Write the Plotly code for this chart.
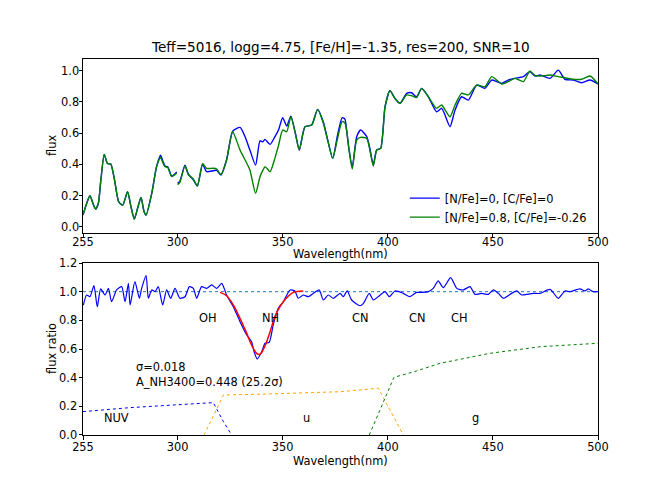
import plotly.graph_objects as go

# top panel: spectra (two pieces, broken at 300 nm)
wl_top = [255.0, 256.5, 258.3, 260.0, 261.0, 262.3, 263.5, 265.1, 266.6, 268.2, 270.0, 272.0, 273.9,
          276.2, 277.8, 279.4, 281.0, 282.6, 284.0, 285.0, 287.7, 290.0, 291.9, 293.0, 294.0, 295.3,
          297.2, 299.6, None,
          300.0, 301.1, 303.5, 305.1, 307.5, 309.4, 311.9, 313.8, 317.0, 318.6, 320.6, 323.3, 326.2,
          329.7, 332.1, 334.4, 337.1, 339.2, 340.5, 341.6, 344.0, 346.3, 348.0, 350.0, 351.9, 353.9,
          356.0, 357.9, 360.6, 363.8, 366.6, 369.3, 371.5, 373.8, 376.0, 378.3, 379.6, 380.4, 381.5,
          383.1, 385.2, 387.1, 390.0, 391.5, 393.1, 394.7, 396.6, 398.7, 401.0, 403.4, 405.8, 409.0,
          411.3, 413.7, 416.1, 419.3, 423.2, 425.6, 427.2, 429.6, 432.0, 435.1, 438.3, 442.3, 446.2,
          449.4, 451.8, 454.2, 457.3, 460.5, 464.5, 467.6, 470.0, 472.4, 477.2, 481.1, 484.3, 488.3,
          492.2, 496.2, 500.0]

flux_solar = [0.075, 0.14, 0.199, 0.14, 0.113, 0.15, 0.30, 0.464, 0.406, 0.402, 0.30, 0.16, 0.139,
              0.224, 0.13, 0.049, 0.12, 0.188, 0.10, 0.075, 0.214, 0.385, 0.458, 0.42, 0.389, 0.385,
              0.325, 0.351, None,
              0.278, 0.293, 0.395, 0.338, 0.300, 0.261, 0.400, 0.353, 0.359, 0.362, 0.331, 0.428, 0.612,
              0.637, 0.577, 0.492, 0.395, 0.551, 0.545, 0.560, 0.528, 0.577, 0.620, 0.699, 0.645, 0.709,
              0.600, 0.492, 0.641, 0.652, 0.752, 0.673, 0.550, 0.438, 0.580, 0.699, 0.690, 0.620, 0.500,
              0.385, 0.577, 0.620, 0.577, 0.500, 0.395, 0.492, 0.502, 0.769, 0.872, 0.823, 0.791, 0.855,
              0.859, 0.833, 0.887, 0.833, 0.737, 0.759, 0.716, 0.641, 0.748, 0.833, 0.812, 0.908, 0.887,
              0.940, 0.930, 0.919, 0.940, 0.951, 0.962, 0.994, 0.966, 0.972, 0.951, 1.004, 0.945, 0.940,
              0.923, 0.940, 0.915]

flux_nrich = [0.075, 0.14, 0.199, 0.14, 0.113, 0.15, 0.30, 0.464, 0.406, 0.402, 0.30, 0.16, 0.139,
              0.224, 0.13, 0.049, 0.12, 0.188, 0.10, 0.075, 0.214, 0.385, 0.445, 0.41, 0.385, 0.380,
              0.322, 0.345, None,
              0.270, 0.285, 0.390, 0.335, 0.305, 0.262, 0.405, 0.374, 0.375, 0.370, 0.335, 0.428, 0.609,
              0.492, 0.428, 0.364, 0.214, 0.321, 0.360, 0.385, 0.353, 0.440, 0.520, 0.620, 0.609, 0.705,
              0.600, 0.492, 0.641, 0.652, 0.752, 0.665, 0.550, 0.438, 0.560, 0.675, 0.665, 0.620, 0.500,
              0.370, 0.556, 0.573, 0.566, 0.490, 0.389, 0.490, 0.502, 0.769, 0.872, 0.823, 0.791, 0.845,
              0.840, 0.828, 0.887, 0.833, 0.759, 0.780, 0.750, 0.705, 0.780, 0.855, 0.845, 0.908, 0.897,
              0.962, 0.940, 0.914, 0.930, 0.951, 0.930, 0.998, 0.970, 0.966, 0.972, 0.962, 0.955, 0.945,
              0.945, 0.966, 0.915]

# bottom panel: flux ratio
wl_ratio = [255.2, 256.7, 258.3, 260.2, 261.8, 263.4, 265.5, 267.1, 268.6, 271.0, 273.4, 275.0, 276.6,
            277.4, 279.7, 281.8, 282.9, 285.0, 286.1, 287.7, 289.3, 290.8, 292.9, 294.8, 296.7, 298.8,
            301.1, 303.5, 305.6, 307.5, 309.1, 311.4, 313.8, 316.2, 318.6, 321.0, 323.3, 326.5, 329.7,
            332.9, 335.2, 336.4, 337.9, 340.0, 341.6, 343.6, 345.5, 347.9, 350.3, 353.5, 355.8, 357.4,
            359.8, 362.2, 364.6, 367.4, 369.3, 371.7, 374.1, 377.3, 378.8, 380.7, 382.8, 386.8, 388.4,
            391.2, 393.1, 396.0, 398.7, 400.7, 403.4, 407.4, 410.5, 413.7, 416.1, 419.3, 421.6, 424.0,
            426.4, 429.9, 432.8, 435.9, 439.1, 441.5, 444.6, 447.8, 450.2, 452.6, 455.0, 458.1, 461.3,
            463.7, 466.0, 469.2, 472.4, 477.2, 481.1, 484.3, 486.7, 491.4, 493.8, 495.4, 497.7, 500.0]
ratio = [0.907, 0.977, 0.965, 1.042, 0.895, 1.019, 0.977, 1.023, 0.930, 1.012, 1.035, 0.930, 1.058,
         0.907, 1.070, 0.954, 1.023, 1.112, 0.954, 1.012, 1.000, 1.035, 0.907, 1.012, 0.954, 1.023,
         0.954, 0.965, 1.035, 1.023, 0.954, 1.035, 1.023, 1.047, 1.023, 1.058, 0.977, 0.895, 0.791,
         0.698, 0.651, 0.581, 0.530, 0.581, 0.640, 0.647, 0.768, 0.884, 0.930, 1.012, 1.005, 0.954,
         0.977, 0.965, 0.989, 1.012, 0.942, 0.977, 0.954, 0.988, 0.965, 1.005, 0.942, 0.902, 0.919,
         0.988, 0.942, 0.972, 1.000, 0.965, 1.005, 0.988, 0.965, 0.995, 0.995, 1.000, 1.023, 1.075,
         1.028, 1.098, 1.023, 1.012, 1.035, 0.981, 0.988, 0.981, 1.012, 0.988, 0.954, 0.981, 1.005,
         0.977, 0.981, 0.988, 0.988, 1.016, 0.954, 1.005, 1.000, 1.019, 1.005, 1.019, 1.000, 1.000]

# NH 3400 band fit
wl_fit = [320.2, 323.3, 326.5, 329.7, 332.9, 335.2, 337.6, 339.2, 341.6, 344.0, 346.3, 348.7, 351.9,
          355.1, 359.8]
fit = [0.995, 0.972, 0.907, 0.814, 0.709, 0.628, 0.570, 0.563, 0.623, 0.721, 0.826, 0.896, 0.958,
       0.995, 1.005]

# filter curves
wl_nuv = [255.0, 277.4, 317.0, 321.8, 325.7]
thr_nuv = [0.163, 0.191, 0.226, 0.093, 0.0]
wl_u = [312.6, 321.8, 340.0, 360.0, 377.3, 395.5, 407.4]
thr_u = [0.0, 0.279, 0.285, 0.293, 0.302, 0.326, 0.0]
wl_g = [391.2, 402.9, 413.7, 424.8, 448.6, 472.4, 500.0]
thr_g = [0.0, 0.402, 0.447, 0.500, 0.570, 0.616, 0.640]

band_names = ['OH', 'NH', 'CN', 'CN', 'CH']
band_wl = [314.3, 344.0, 386.8, 413.7, 433.9]
filter_names = ['NUV', 'u', 'g']
filter_wl = [271.0, 361.4, 441.5]

FONT = 'DejaVu Sans'
FS = 11.4

fig = go.Figure()

fig.add_trace(go.Scatter(x=wl_top, y=flux_solar, mode='lines', name='[N/Fe]=0, [C/Fe]=0',
                         line=dict(color='blue', width=1.4, shape='spline', smoothing=0.6),
                         xaxis='x', yaxis='y'))
fig.add_trace(go.Scatter(x=wl_top, y=flux_nrich, mode='lines', name='[N/Fe]=0.8, [C/Fe]=-0.26',
                         line=dict(color='green', width=1.4, shape='spline', smoothing=0.6),
                         xaxis='x', yaxis='y'))

fig.add_trace(go.Scatter(x=[255, 500], y=[1, 1], mode='lines', showlegend=False,
                         line=dict(color='#1f77b4', width=1, dash='dot'), xaxis='x2', yaxis='y2'))
fig.add_trace(go.Scatter(x=wl_ratio, y=ratio, mode='lines', showlegend=False,
                         line=dict(color='blue', width=1.2, shape='spline', smoothing=0.6),
                         xaxis='x2', yaxis='y2'))
fig.add_trace(go.Scatter(x=wl_fit, y=fit, mode='lines', showlegend=False,
                         line=dict(color='red', width=1.5, shape='spline'), xaxis='x2', yaxis='y2'))
for wl, thr, col in [(wl_nuv, thr_nuv, 'blue'), (wl_u, thr_u, 'orange'), (wl_g, thr_g, 'green')]:
    fig.add_trace(go.Scatter(x=wl, y=thr, mode='lines', showlegend=False,
                             line=dict(color=col, width=1, dash='dot'), xaxis='x2', yaxis='y2'))

ann = []
for name, wl in zip(band_names, band_wl):
    ann.append(dict(x=wl, y=0.818, xref='x2', yref='y2', text=name))
for name, wl in zip(filter_names, filter_wl):
    ann.append(dict(x=wl, y=0.121, xref='x2', yref='y2', text=name))
ann.append(dict(x=279.7, y=0.474, xref='x2', yref='y2', text='σ=0.018', xanchor='left'))
ann.append(dict(x=279.7, y=0.370, xref='x2', yref='y2', text='A_NH3400=0.448 (25.2σ)',
                xanchor='left'))
# axis titles and figure title
ann.append(dict(x=0.5, y=0.481, xref='paper', yref='paper', text='Wavelength(nm)'))
ann.append(dict(x=0.5, y=-0.069, xref='paper', yref='paper', text='Wavelength(nm)'))
ann.append(dict(x=-0.060, y=0.769, xref='paper', yref='paper', text='flux', textangle=-90))
ann.append(dict(x=-0.060, y=0.229, xref='paper', yref='paper', text='flux ratio', textangle=-90))
ann.append(dict(x=0.5, y=1.032, xref='paper', yref='paper',
                text='Teff=5016, logg=4.75, [Fe/H]=-1.35, res=200, SNR=10', font=dict(size=13.6)))
for a in ann:
    a.setdefault('xanchor', 'center')
    a['yanchor'] = 'middle'
    a['showarrow'] = False
    a['borderpad'] = 0

axis_style = dict(showline=True, linecolor='black', linewidth=1, mirror=True, ticks='outside',
                  ticklen=3.5, tickcolor='black', showgrid=False, zeroline=False,
                  tickfont=dict(size=FS, color='black'))
ticks_x = dict(range=[255, 500], tickvals=[255, 300, 350, 400, 450, 500])

# page body has an 8px margin, so the figure is 8px smaller than the window
fig.update_layout(
    width=656, height=490,
    margin=dict(l=75, r=66, t=51, b=63),
    paper_bgcolor='white', plot_bgcolor='white',
    font=dict(family=FONT, size=FS, color='black'),
    xaxis=dict(domain=[0, 1], anchor='y', ticklabelstandoff=-5, **ticks_x, **axis_style),
    yaxis=dict(domain=[0.5372, 1], anchor='x', range=[-0.04, 1.075], ticklabelstandoff=-3,
               tickvals=[0, 0.2, 0.4, 0.6, 0.8, 1.0], tickformat='.1f', **axis_style),
    xaxis2=dict(domain=[0, 1], anchor='y2', ticklabelstandoff=-2, **ticks_x, **axis_style),
    yaxis2=dict(domain=[0, 0.4574], anchor='x2', range=[0, 1.2], ticklabelstandoff=-1,
                tickvals=[0, 0.2, 0.4, 0.6, 0.8, 1.0, 1.2], tickformat='.1f', **axis_style),
    legend=dict(x=0.988, xanchor='right', y=0.541, yanchor='bottom',
                bgcolor='rgba(255,255,255,0.8)', itemwidth=30, font=dict(size=FS),
                tracegroupgap=0),
    annotations=ann,
    showlegend=True,
)

fig.write_html("out.html")
